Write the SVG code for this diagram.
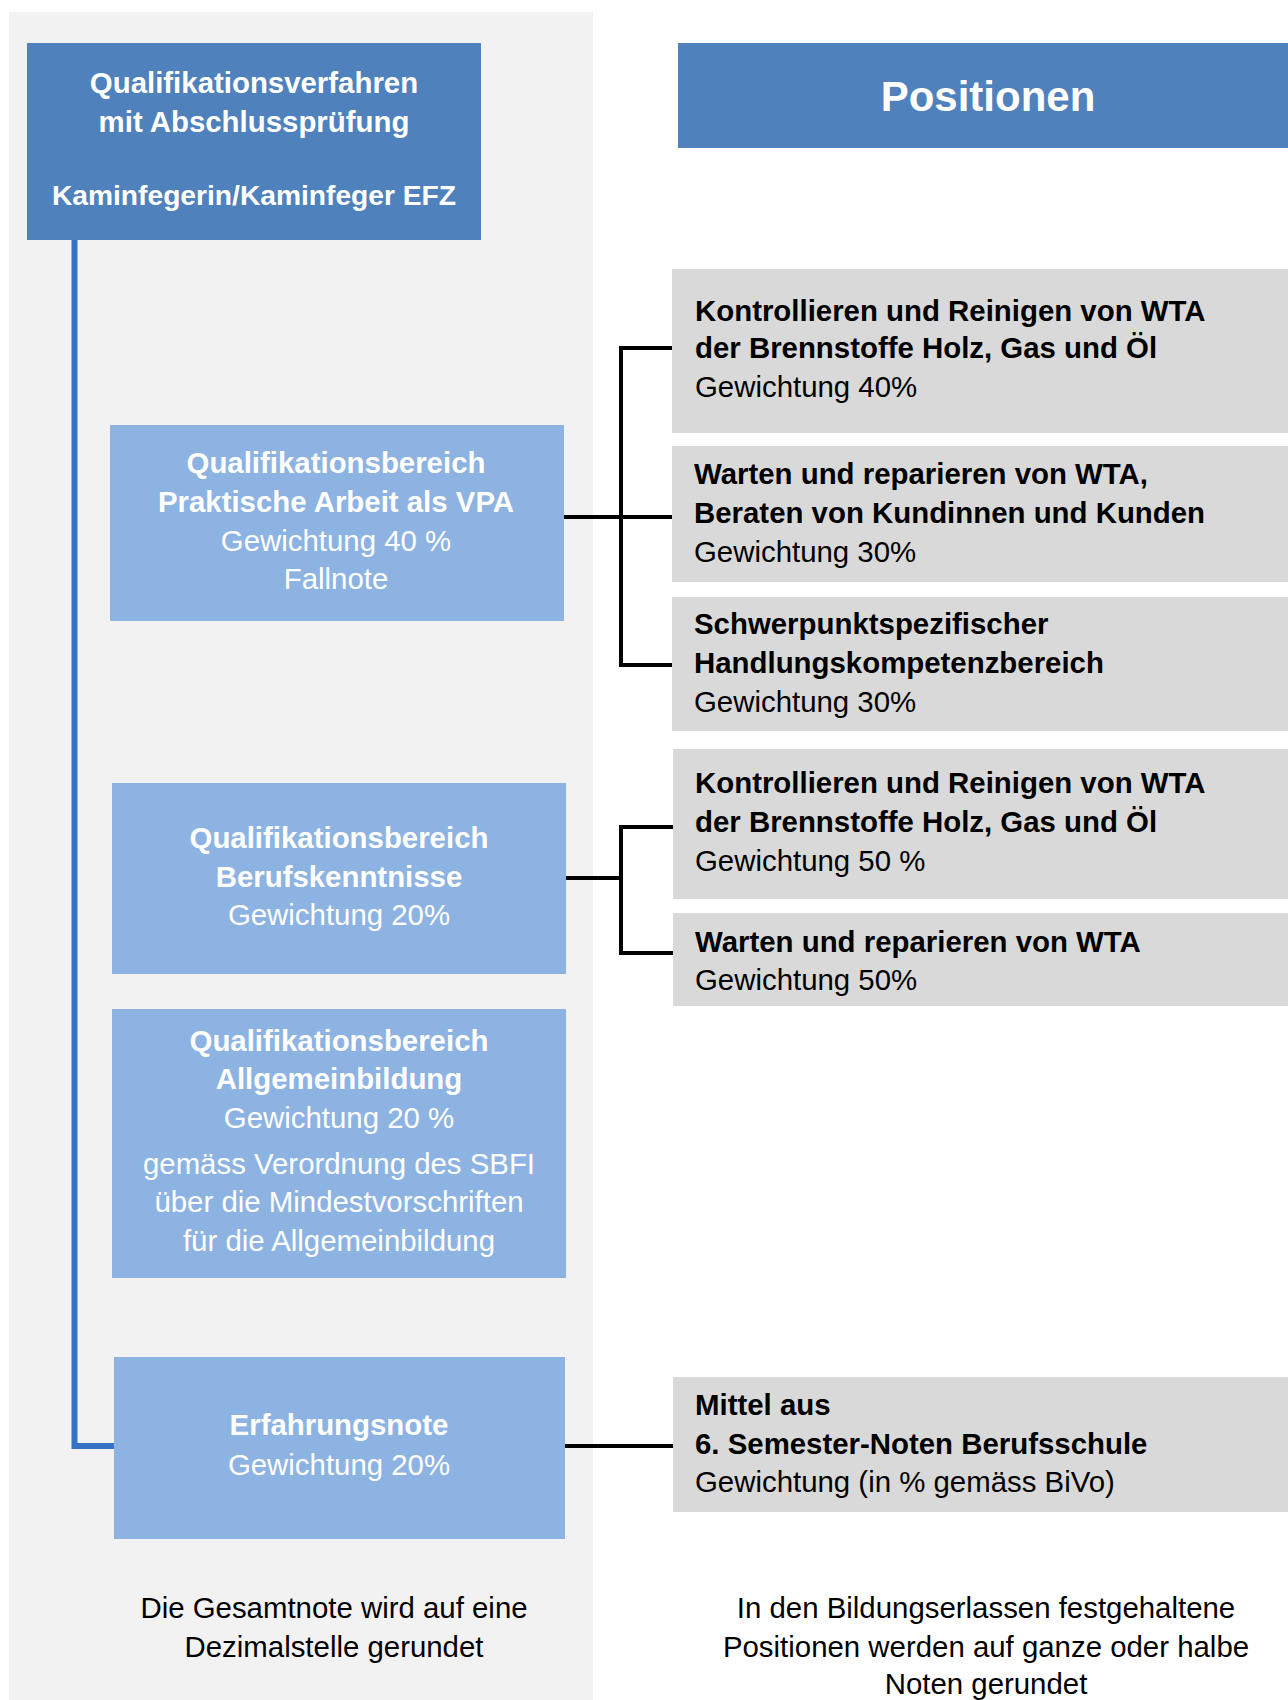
<svg xmlns="http://www.w3.org/2000/svg" width="1288" height="1700" viewBox="0 0 1288 1700">
<style>
text{font-family:"Liberation Sans",Arial,sans-serif;font-size:29.4px}
.b{font-weight:bold}
.w{fill:#FFFFFF}
.k{fill:#000000}
.c{text-anchor:middle}
.dark{fill:#4F81BD}
.light{fill:#8DB3E2}
.grey{fill:#D9D9D9}
.blk{stroke:#000000;stroke-width:4;fill:none}
.blu{stroke:#3572C6;stroke-width:6;fill:none}
</style>
<rect x="0" y="0" width="1288" height="1700" fill="#FFFFFF"/>
<rect id="panel" x="9" y="12" width="584" height="1688" fill="#F2F2F2"/>
<g id="connectors">
<polyline class="blu" points="74.5,240 74.5,1446 114,1446"/>
<line class="blk" x1="564" y1="517" x2="672" y2="517"/>
<polyline class="blk" points="672,348 621,348 621,665 672,665"/>
<line class="blk" x1="566" y1="878" x2="621" y2="878"/>
<polyline class="blk" points="673,827 621,827 621,953 673,953"/>
<line class="blk" x1="565" y1="1446" x2="673" y2="1446"/>
</g>
<g id="n-title">
<rect class="dark" x="27" y="43" width="454" height="197"/>
<text class="b w c" x="254" y="93">Qualifikationsverfahren</text>
<text class="b w c" x="254" y="132">mit Abschlussprüfung</text>
<text class="b w c" x="254" y="205" style="font-size:28.2px">Kaminfegerin/Kaminfeger EFZ</text>
</g>
<g id="n-positionen">
<rect class="dark" x="678" y="43" width="610" height="105"/>
<text class="b w c" x="988" y="111" style="font-size:42px">Positionen</text>
</g>
<g id="n-praktisch">
<rect class="light" x="110" y="425" width="454" height="196"/>
<text class="b w c" x="336" y="473">Qualifikationsbereich</text>
<text class="b w c" x="336" y="512">Praktische Arbeit als VPA</text>
<text class="w c" x="336" y="551">Gewichtung 40 %</text>
<text class="w c" x="336" y="589">Fallnote</text>
</g>
<g id="n-beruf">
<rect class="light" x="112" y="783" width="454" height="191"/>
<text class="b w c" x="339" y="848">Qualifikationsbereich</text>
<text class="b w c" x="339" y="887">Berufskenntnisse</text>
<text class="w c" x="339" y="925">Gewichtung 20%</text>
</g>
<g id="n-allg">
<rect class="light" x="112" y="1009" width="454" height="269"/>
<text class="b w c" x="339" y="1051">Qualifikationsbereich</text>
<text class="b w c" x="339" y="1089">Allgemeinbildung</text>
<text class="w c" x="339" y="1128">Gewichtung 20 %</text>
<text class="w c" x="339" y="1174">gemäss Verordnung des SBFI</text>
<text class="w c" x="339" y="1212">über die Mindestvorschriften</text>
<text class="w c" x="339" y="1251">für die Allgemeinbildung</text>
</g>
<g id="n-erfahrung">
<rect class="light" x="114" y="1357" width="451" height="182"/>
<text class="b w c" x="339" y="1435">Erfahrungsnote</text>
<text class="w c" x="339" y="1475">Gewichtung 20%</text>
</g>
<g id="n-pos1">
<rect class="grey" x="672" y="269" width="616" height="164"/>
<text class="b k" x="695" y="321">Kontrollieren und Reinigen von WTA</text>
<text class="b k" x="695" y="358">der Brennstoffe Holz, Gas und Öl</text>
<text class="k" x="695" y="397">Gewichtung 40%</text>
</g>
<g id="n-pos2">
<rect class="grey" x="672" y="446" width="616" height="136"/>
<text class="b k" x="694" y="484">Warten und reparieren von WTA,</text>
<text class="b k" x="694" y="523">Beraten von Kundinnen und Kunden</text>
<text class="k" x="694" y="562">Gewichtung 30%</text>
</g>
<g id="n-pos3">
<rect class="grey" x="672" y="597" width="616" height="134"/>
<text class="b k" x="694" y="634">Schwerpunktspezifischer</text>
<text class="b k" x="694" y="673">Handlungskompetenzbereich</text>
<text class="k" x="694" y="712">Gewichtung 30%</text>
</g>
<g id="n-pos4">
<rect class="grey" x="673" y="749" width="615" height="150"/>
<text class="b k" x="695" y="793">Kontrollieren und Reinigen von WTA</text>
<text class="b k" x="695" y="832">der Brennstoffe Holz, Gas und Öl</text>
<text class="k" x="695" y="871">Gewichtung 50 %</text>
</g>
<g id="n-pos5">
<rect class="grey" x="673" y="913" width="615" height="93"/>
<text class="b k" x="695" y="952">Warten und reparieren von WTA</text>
<text class="k" x="695" y="990">Gewichtung 50%</text>
</g>
<g id="n-pos6">
<rect class="grey" x="673" y="1377" width="615" height="135"/>
<text class="b k" x="695" y="1415">Mittel aus</text>
<text class="b k" x="695" y="1454">6. Semester-Noten Berufsschule</text>
<text class="k" x="695" y="1492">Gewichtung (in % gemäss BiVo)</text>
</g>
<g id="note-left">
<text class="k c" x="334" y="1618">Die Gesamtnote wird auf eine</text>
<text class="k c" x="334" y="1657">Dezimalstelle gerundet</text>
</g>
<g id="note-right">
<text class="k c" x="986" y="1618">In den Bildungserlassen festgehaltene</text>
<text class="k c" x="986" y="1657">Positionen werden auf ganze oder halbe</text>
<text class="k c" x="986" y="1694">Noten gerundet</text>
</g>
</svg>
